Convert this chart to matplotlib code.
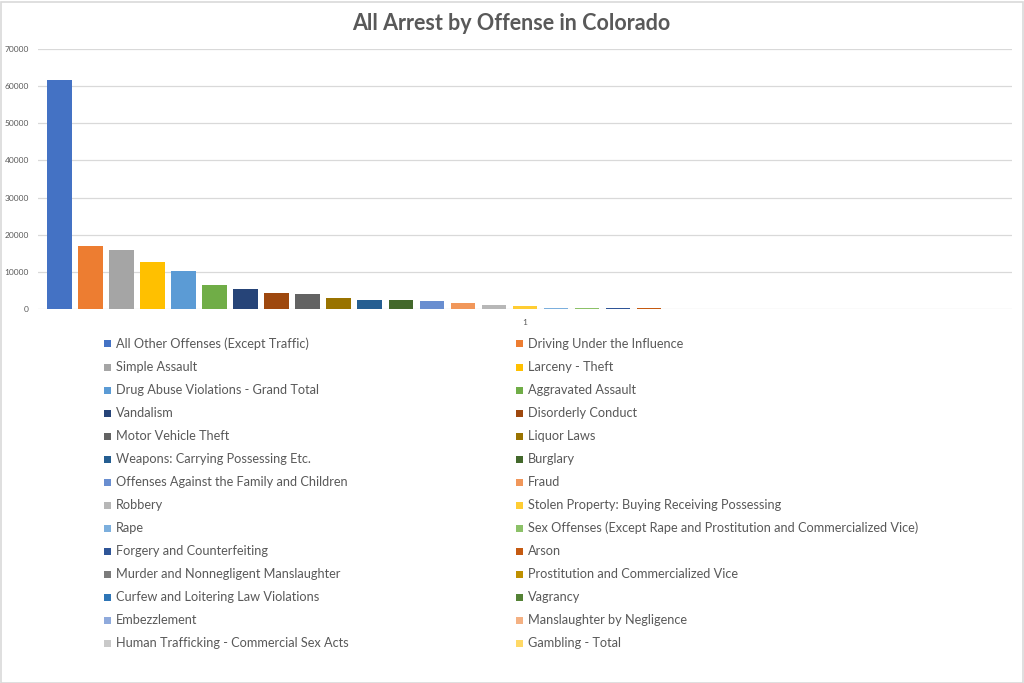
import matplotlib
matplotlib.use("Agg")
import matplotlib.pyplot as plt
from matplotlib.patches import Rectangle

plt.rcParams['font.family'] = ['Lato', 'DejaVu Sans']

# Daten: Festnahmen nach Delikt (Colorado)
offenses = [
    "All Other Offenses (Except Traffic)", "Driving Under the Influence",
    "Simple Assault", "Larceny - Theft",
    "Drug Abuse Violations - Grand Total", "Aggravated Assault",
    "Vandalism", "Disorderly Conduct",
    "Motor Vehicle Theft", "Liquor Laws",
    "Weapons: Carrying Possessing Etc.", "Burglary",
    "Offenses Against the Family and Children", "Fraud",
    "Robbery", "Stolen Property: Buying Receiving Possessing",
    "Rape", "Sex Offenses (Except Rape and Prostitution and Commercialized Vice)",
    "Forgery and Counterfeiting", "Arson",
    "Murder and Nonnegligent Manslaughter", "Prostitution and Commercialized Vice",
    "Curfew and Loitering Law Violations", "Vagrancy",
    "Embezzlement", "Manslaughter by Negligence",
    "Human Trafficking - Commercial Sex Acts", "Gambling - Total",
]
arrests = [
    61700, 17000, 15900, 12650,
    10250, 6500, 5400, 4300,
    4000, 2950, 2550, 2300,
    2150, 1600, 1080, 900,
    350, 330, 280, 260,
    110, 90, 80, 60,
    40, 15, 8, 3,
]
colors = [
    "#4472C4", "#ED7D31", "#A5A5A5", "#FFC000", "#5B9BD5", "#70AD47",
    "#264478", "#9E480E", "#636363", "#997300", "#255E91", "#43682B",
    "#698ED0", "#F1975A", "#B7B7B7", "#FFCD33", "#7CAFDD", "#8CC168",
    "#2F5597", "#C55A11", "#7B7B7B", "#BF9000", "#2E75B6", "#548235",
    "#8FAADC", "#F4B183", "#C9C9C9", "#FFD966",
]
y_ticks = [0, 10000, 20000, 30000, 40000, 50000, 60000, 70000]
category_label = "1"

text_col = "#595959"
grid_col = "#D9D9D9"

fig = plt.figure(figsize=(10.24, 6.83), dpi=100)
W, H = 1024, 683

# Plot-Bereich
ax = fig.add_axes([38 / W, 1 - 309 / H, (1012 - 38) / W, (309 - 49) / H])
x = list(range(len(arrests)))
ax.bar(x, arrests, width=0.8, color=colors, zorder=3)
ax.set_ylim(0, 70000)
ax.set_xlim(-0.7, 30.7)
ax.set_yticks(y_ticks)
ax.set_yticklabels([str(t) for t in y_ticks])
ax.set_xticks([15])
ax.set_xticklabels([category_label])
ax.tick_params(axis='both', length=0, labelsize=6, colors=text_col)
ax.tick_params(axis='y', pad=6.5)
ax.tick_params(axis='x', pad=7)
ax.grid(axis='y', color=grid_col, linewidth=0.9, zorder=0)
for s in ax.spines.values():
    s.set_visible(False)

# Titel
fig.text(511.5 / W, 1 - 23 / H, "All Arrest by Offense in Colorado",
         ha='center', va='center', fontsize=15.5, fontweight='bold', color=text_col)

# Legende (zeilenweise, 2 Spalten)
col_x = [104, 516]
row_y0, row_dy = 344, 23.0
for i, (name, c) in enumerate(zip(offenses, colors)):
    r, k = divmod(i, 2)
    yc = row_y0 + r * row_dy
    fig.add_artist(Rectangle(((col_x[k]) / W, 1 - (yc + 3.5) / H), 7 / W, 7 / H,
                             transform=fig.transFigure, color=c, lw=0))
    fig.text((col_x[k] + 12) / W, 1 - yc / H, name, ha='left', va='center',
             fontsize=9.2, color=text_col)

# Rahmen um die Grafik
fig.add_artist(Rectangle((0.5 / W, 0.5 / H), (W - 2) / W, (H - 2) / H,
                         transform=fig.transFigure, fill=False,
                         edgecolor="#D9D9D9", lw=1.2))

fig.savefig("out.png", dpi=100)
